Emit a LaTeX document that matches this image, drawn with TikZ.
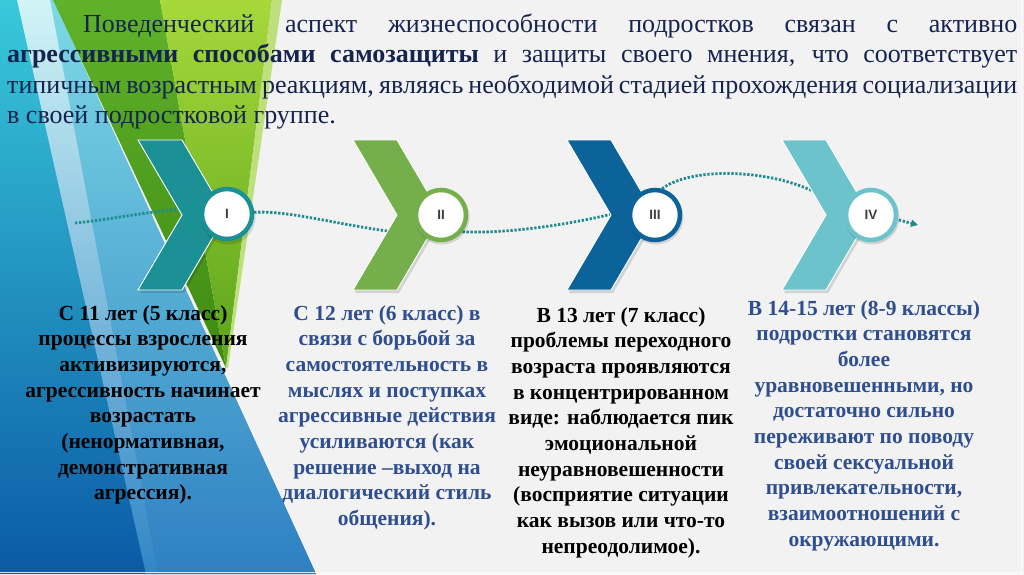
\documentclass[tikz,border=0pt]{standalone}
\usepackage{fontspec}
\setmainfont{Liberation Serif}
\setsansfont{Liberation Sans}
\usetikzlibrary{arrows.meta,calc}
\definecolor{bgc}{HTML}{F2F2F2}
\definecolor{chI}{HTML}{1B9196}
\definecolor{chII}{HTML}{74AF4B}
\definecolor{chIII}{HTML}{0B6399}
\definecolor{chIV}{HTML}{6DC3CB}
\definecolor{connc}{HTML}{1E8C8F}
\definecolor{topc}{HTML}{15234F}
\definecolor{colblue}{HTML}{2F4E8F}
\definecolor{labc}{HTML}{3C3C3C}
\definecolor{blueTop}{RGB}{56,201,218}
\definecolor{blueBot}{RGB}{11,90,165}
\definecolor{lblueTop}{RGB}{125,218,230}
\definecolor{lblueBot}{RGB}{46,128,194}
\definecolor{stripTop}{RGB}{210,244,246}
\definecolor{stripBot}{RGB}{50,134,198}
\definecolor{dgTop}{RGB}{96,178,42}
\definecolor{dgBot}{RGB}{62,138,18}
\definecolor{ygTop}{RGB}{166,216,58}
\definecolor{ygBot}{RGB}{91,164,28}
\definecolor{lgStrip}{RGB}{190,224,122}
\pgfdeclarelayer{bg}
\pgfdeclarelayer{connlayer}
\pgfsetlayers{bg,connlayer,main}
\tikzset{
  chevshape/.style={fill=#1, draw=white, line width=0.9pt},
  chevshadow/.style={fill=black, opacity=0.13},
  stagecircle/.style={circle, fill=white, draw=#1, line width=4.5pt, minimum size=50pt, inner sep=0pt,
     font=\sffamily\bfseries\fontsize{13.5}{13.5}\selectfont, text=labc},
  circshadow/.style={circle, fill=black, opacity=0.13, minimum size=55pt, inner sep=0pt},
  conn/.style={draw=connc, line width=2.8pt, dash pattern=on 2.3pt off 1.7pt},
  coltext/.style={anchor=base, inner sep=0pt, font=\bfseries\fontsize{21.5}{25.7}\selectfont},
}
\begin{document}
\begin{tikzpicture}[x=1pt,y=-1pt]
\useasboundingbox (0,0) rectangle (1024,574);
\begin{pgfonlayer}{bg}
\fill[bgc] (0,0) rectangle (1024,574);
% blue decoration
\shade[top color=blueTop, bottom color=blueBot]
  (0,0) -- (53,0) -- (316,574) -- (0,574) -- cycle;
\shade[top color=lblueTop, bottom color=lblueBot]
  (50,0) -- (53,0) -- (316,574) -- (150,574) -- cycle;
\shade[top color=stripTop, middle color=stripBot!55!stripTop, bottom color=stripBot]
  (17,0) -- (50,0) -- (158,574) -- (146,574) -- cycle;
% green wedge
\shade[top color=dgTop, bottom color=dgBot]
  (53,0) -- (160,0) -- (226,368) -- cycle;
\shade[top color=ygTop, bottom color=ygBot]
  (160,0) -- (272,0) -- (226,368) -- cycle;
\fill[lgStrip] (272,0) -- (282,0) -- (228,368) -- (226,368) -- cycle;
% faint slide border
\draw[white, opacity=0.8, line width=1.2pt] (1021.5,0) -- (1021.5,572.5) -- (0,572.5);
\end{pgfonlayer}

% top text
\node[anchor=base west, inner sep=0pt, text=topc, font=\fontsize{26}{30.5}\selectfont] (intro) at (7,32)
 {\parbox[t]{1010pt}{%
  \makebox[1010pt][s]{\hspace*{76pt}Поведенческий аспект жизнеспособности подростков связан с активно}\\
  \makebox[1010pt][s]{\textbf{агрессивными способами самозащиты} и защиты своего мнения, что соответствует}\\
  \makebox[1010pt][s]{типичным возрастным реакциям, являясь необходимой стадией прохождения социализации}\\
  в своей подростковой группе.}};

% chevrons
\foreach \L/\c in {138/chI,353/chII,567/chIII,782/chIV} {
  \fill[chevshadow, shift={(2,3)}] (\L,140) -- ++(44,0) -- ++(44,75) -- ++(-44,75) -- ++(-44,0) -- ++(44,-75) -- cycle;
  \filldraw[chevshape=\c] (\L,140) -- ++(44,0) -- ++(44,75) -- ++(-44,75) -- ++(-44,0) -- ++(44,-75) -- cycle;
}

% circles
\foreach \x/\n in {227/sI,441/sII,655/sIII,871/sIV} {
  \node[circshadow] (\n) at (\x+1,217) {};
}
\node[stagecircle=chI]   (cI)   at (227,214) {I};
\node[stagecircle=chII]  (cII)  at (441,215) {II};
\node[stagecircle=chIII] (cIII) at (655,215) {III};
\node[stagecircle=chIV]  (cIV)  at (871,215) {IV};

% connector end points
\coordinate (s1) at (75,223);
\coordinate (e1) at (183,209);
\coordinate (e2) at (405,233);
\coordinate (e3) at (612,214);
\coordinate (e4) at (815,192);
\coordinate (t5) at (918,225);

\begin{pgfonlayer}{connlayer}
\draw[conn] (s1) .. controls +(40,-4) and +(-40,3) .. (e1);
\draw[conn] (cI) .. controls +(64,-4) and +(-55,-5) .. (e2);
\draw[conn] (cII.-38) .. controls +(40,2) and +(-50,12) .. (e3);
\draw[conn] (cIII.75) .. controls +(28,-21) and +(-50,-24) .. (e4);
\end{pgfonlayer}
\draw[conn, -{Triangle[length=7pt,width=7pt]}, shorten <=1pt] (cIV.-10) -- (t5);

% column texts
\node[coltext, text=black] (t1) at (143,320) {\parbox[t]{270pt}{\centering
 С 11 лет (5 класс)\\ процессы взросления\\ активизируются,\\ агрессивность начинает\\ возрастать\\ (ненормативная,\\ демонстративная\\ агрессия).}};
\node[coltext, text=colblue] (t2) at (387,320) {\parbox[t]{270pt}{\centering
 С 12 лет (6 класс) в\\ связи с борьбой за\\ самостоятельность в\\ мыслях и поступках\\ агрессивные действия\\ усиливаются (как\\ решение –выход на\\ диалогический стиль\\ общения).}};
\node[coltext, text=black] (t3) at (621,322) {\parbox[t]{270pt}{\centering
 В 13 лет (7 класс)\\ проблемы переходного\\ возраста проявляются\\ в концентрированном\\ виде: наблюдается пик\\ эмоциональной\\ неуравновешенности\\ (восприятие ситуации\\ как вызов или что-то\\ непреодолимое).}};
\node[coltext, text=colblue] (t4) at (864,315) {\parbox[t]{270pt}{\centering
 В 14-15 лет (8-9 классы)\\ подростки становятся\\ более\\ уравновешенными, но\\ достаточно сильно\\ переживают по поводу\\ своей сексуальной\\ привлекательности,\\ взаимоотношений с\\ окружающими.}};
\end{tikzpicture}
\end{document}
